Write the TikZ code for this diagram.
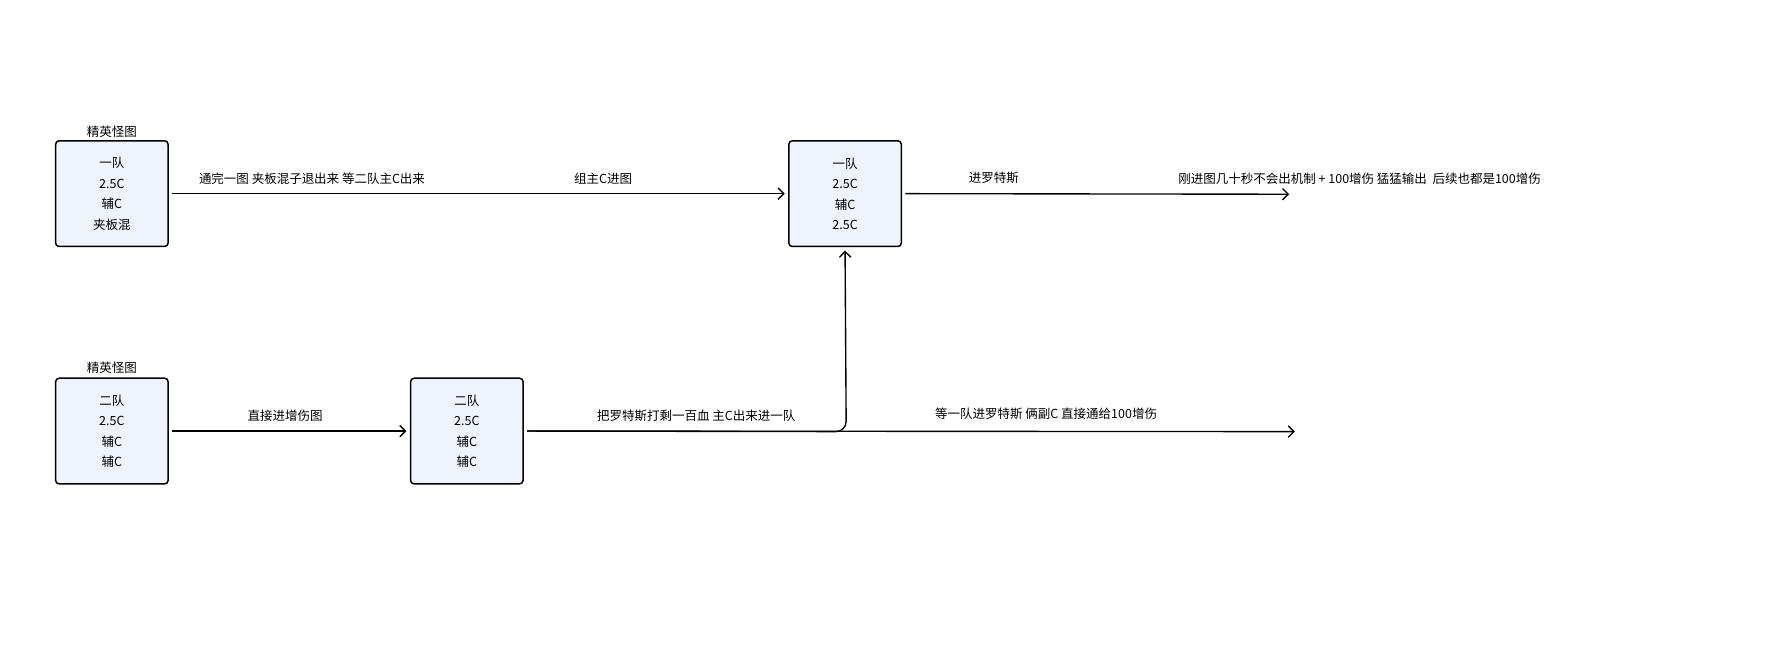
\documentclass[tikz,border=0pt]{standalone}
\usepackage{fontspec}
\setmainfont{Noto Sans CJK SC}
\usetikzlibrary{arrows.meta}
\begin{document}
\begin{tikzpicture}[x=1pt,y=-1pt,
  box/.style={draw=black,line width=1.3pt,fill={rgb,255:red,239;green,243;blue,252},rounded corners=3pt,minimum width=99pt,minimum height=93pt,inner sep=0pt,align=center,font=\fontsize{11}{18}\selectfont},
  lab/.style={font=\fontsize{11}{13}\selectfont,inner sep=0pt},
  arr/.style={line width=1.2pt,-{Straight Barb[length=5pt,width=10pt]}}]
\useasboundingbox (0,0) rectangle (1568,577);
\node[box] (A) at (98.5,170.5) {一队\\2.5C\\辅C\\夹板混};
\node[box] (B) at (98.5,379.5) {二队\\2.5C\\辅C\\辅C};
\node[box] (C) at (411,379.5) {二队\\2.5C\\辅C\\辅C};
\node[box] (D) at (744,170.5) {一队\\2.5C\\辅C\\2.5C};
\node[lab] (ta) at (98.5,116) {精英怪图};
\node[lab] (tb) at (98.5,324) {精英怪图};
\coordinate (e1) at (1135,171);
\coordinate (e2) at (1140,380);
\coordinate (j) at (745,380);
\draw[arr] ([xshift=3pt]A.east) -- ([xshift=-3pt]D.west);
\draw[arr] ([xshift=3pt]D.east) -- (e1);
\draw[arr] ([xshift=3pt]B.east) -- ([xshift=-3pt]C.west);
\draw[arr] ([xshift=3pt]C.east) -- (e2);
\draw[arr,rounded corners=9pt] ([xshift=3pt]C.east) -- (j) -- ([yshift=-3pt]D.south);
\node[lab,anchor=west] (l1) at (175,157) {通完一图 夹板混子退出来 等二队主C出来};
\node[lab] (l2) at (531,157) {组主C进图};
\node[lab] (l3) at (875,157) {进罗特斯};
\node[lab] (l4) at (1197,157) {刚进图几十秒不会出机制 + 100增伤 猛猛输出\ \ 后续也都是100增伤};
\node[lab] (l5) at (251,366) {直接进增伤图};
\node[lab] (l6) at (613,366) {把罗特斯打剩一百血 主C出来进一队};
\node[lab] (l7) at (921,364) {等一队进罗特斯 俩副C 直接通给100增伤};
\end{tikzpicture}
\end{document}
